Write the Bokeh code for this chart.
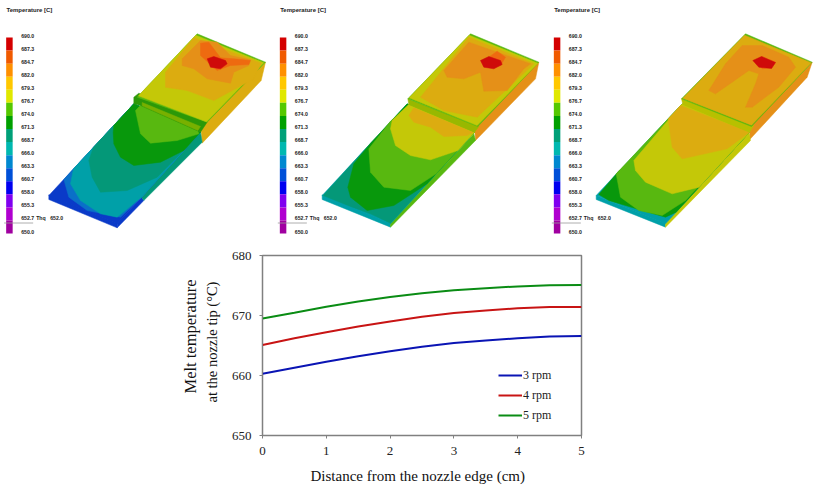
from bokeh.plotting import figure
from bokeh.layouts import column
from bokeh.models import Range1d, Legend, LegendItem, FixedTicker, Title
from bokeh.core.properties import value
from bokeh.embed import file_html
from bokeh.resources import INLINE

# ---- line chart data ----
distance = [0, 0.5, 1, 1.5, 2, 2.5, 3, 3.5, 4, 4.5, 5]
rpm3 = [660.3, 661.3, 662.3, 663.2, 664.05, 664.8, 665.4, 665.85, 666.2, 666.5, 666.6]
rpm4 = [665.1, 666.2, 667.2, 668.15, 669.0, 669.8, 670.4, 670.85, 671.2, 671.4, 671.4]
rpm5 = [669.5, 670.45, 671.45, 672.35, 673.1, 673.7, 674.2, 674.55, 674.85, 675.05, 675.1]
x_ticks = [0, 1, 2, 3, 4, 5]
y_ticks = [650, 660, 670, 680]

# ---- colour scale of the three temperature maps ----
scale_labels = ["690.0", "687.3", "684.7", "682.0", "679.3", "676.7", "674.0", "671.3",
                "668.7", "666.0", "663.3", "660.7", "658.0", "655.3", "652.7", "650.0"]
scale_colors = ["#d40000", "#f05a00", "#ff9000", "#ffc800", "#e0e800", "#55c800", "#00a000",
                "#00a078", "#00b8b0", "#0088d0", "#0050d8", "#0000f0", "#8000f0", "#b000d0", "#a000a0"]

RED, ORD, ORG, GLD, YEL, LGR, GRN, TGR, TEA, BLU, DBL = (
    "#cf0a0a", "#ee6a10", "#e59018", "#dcac10", "#c4c808", "#58b810",
    "#08980c", "#049878", "#00a0a8", "#0a70c8", "#0a3ac8")

# Temperature-band outlines (one list per map, painted back to front)
map1 = [
 (GLD, [(795,185),(782,240),(605,428),(600,372)]),
 (DBL, [(145,583),(350,668),(350,682),(145,597)]),
 (DBL, [(350,682),(350,668),(423,590),(430,600)]),
 (TGR, [(423,590),(600,395),(605,425),(430,600)]),
 (DBL, [(145,585),(400,310),(600,395),(350,670)]),
 (BLU, [(190,537),(219,505),(400,310),(600,395),(423,590),(360,650),(260,630),(205,590)]),
 (TEA, [(219,505),(400,310),(600,395),(423,590),(350,650),(300,640),(240,600),(210,550)]),
 (TGR, [(279,440),(400,310),(600,395),(554,445),(470,530),(380,570),(300,575),(275,530),(265,480)]),
 (GRN, [(340,375),(400,310),(600,395),(550,450),(480,485),(400,495),(360,470),(340,430),(338,395)]),
 (LGR, [(405,330),(425,310),(590,385),(595,400),(530,420),(450,428),(420,400)]),
 ("#2c9808", [(400,290),(415,278),(620,365),(600,395),(420,315),(400,310)]),
 ("#78b000", [(425,306),(600,378),(592,390),(425,316)]),
 (LGR, [(590,100),(795,185),(620,365),(410,290)]),
 (YEL, [(586,104),(790,187),(618,364),(414,286)]),
 (GLD, [(495,215),(580,112),(782,188),(760,235),(640,300),(560,270),(495,260)]),
 (ORG, [(545,175),(600,120),(650,125),(690,165),(750,178),(745,195),(700,215),(690,248),(620,235),(580,205),(545,195)]),
 (ORD, [(600,128),(625,125),(660,172),(700,175),(750,180),(745,192),(690,195),(650,210),(600,165)]),
 (RED, [(620,175),(640,168),(675,180),(680,190),(660,205),(630,200)]),
]
map2 = [
 (ORG, [(805,185),(795,235),(615,420),(612,378)]),
 (TEA, [(155,583),(360,668),(360,680),(155,597)]),
 (LGR, [(360,680),(360,668),(610,400),(615,420)]),
 (TEA, [(155,585),(410,310),(612,395),(360,670)]),
 (TGR, [(158,585),(303,425),(612,395),(360,668),(300,640),(240,618)]),
 (GRN, [(303,425),(410,310),(612,395),(470,550),(370,615),(290,630),(240,590),(232,560),(250,490)]),
 (LGR, [(295,445),(360,362),(415,312),(612,395),(497,520),(420,570),(340,560),(300,515)]),
 (YEL, [(360,385),(365,360),(415,312),(612,395),(562,450),(480,478),(420,465),(375,435)]),
 (GLD, [(415,345),(430,322),(608,395),(590,405),(520,408),(480,380),(430,365)]),
 ("#98b800", [(412,295),(415,312),(612,395),(625,378)]),
 (LGR, [(600,100),(805,185),(622,378),(412,295)]),
 (YEL, [(596,104),(802,188),(620,375),(416,292)]),
 (GLD, [(450,290),(595,110),(790,190),(620,350),(520,330)]),
 (ORG, [(520,210),(595,125),(780,190),(760,205),(710,270),(640,272),(630,215),(580,235),(530,230)]),
 (ORD, [(655,170),(680,152),(705,170),(690,195),(665,200)]),
 (RED, [(630,180),(655,168),(690,180),(695,192),(670,205),(640,200)]),
]
map3 = [
 (ORG, [(800,185),(785,230),(610,420),(615,375)]),
 (TEA, [(152,585),(360,668),(360,680),(152,597)]),
 (YEL, [(360,680),(360,668),(610,395),(615,420)]),
 (TEA, [(152,585),(410,310),(612,395),(360,670)]),
 (GRN, [(160,582),(221,510),(612,395),(392,635),(360,650),(290,630),(190,600)]),
 (LGR, [(212,520),(410,310),(612,395),(420,600),(350,645),(280,630),(225,590)]),
 (YEL, [(265,480),(410,310),(612,395),(461,560),(380,580),(300,545),(270,510)]),
 (GLD, [(368,355),(405,315),(612,395),(545,445),(410,475),(380,440)]),
 ("#b8c000", [(408,295),(412,312),(612,395),(625,375)]),
 (LGR, [(600,100),(800,185),(618,378),(408,295)]),
 (GLD, [(597,104),(797,187),(618,374),(412,293)]),
 (ORG, [(490,270),(540,190),(590,135),(650,135),(730,170),(750,200),(700,260),(620,320),(600,320),(630,250),(640,220),(610,210),(560,245),(510,280)]),
 (ORD, [(630,180),(650,168),(690,185),(680,200),(650,205)]),
 (RED, [(622,180),(648,168),(690,186),(678,204),(640,200)]),
]
panels = [(0, map1, 17, "652.0"), (270, map2, 28, "652.0"), (545, map3, 25, "652.0")]

SANS = value("Liberation Sans")
SERIF = "Liberation Serif"

top = figure(width=820, height=240, x_range=Range1d(0, 820), y_range=Range1d(240, 0),
             toolbar_location=None, output_backend="svg", min_border=0)
top.axis.visible = False
top.grid.visible = False
top.outline_line_color = None

for ox, polys, bar_x, thq in panels:
    for color, pts in polys:
        top.patch([ox + a / 3 for a, _ in pts], [b / 3 for _, b in pts],
                  fill_color=color, line_color=color, line_width=0.5)
    left = ox + bar_x / 3
    seg = 13.07
    y0 = 37.0
    n = len(scale_colors)
    top.quad(left=[left] * n, right=[left + 6.5] * n,
             top=[y0 + i * seg for i in range(n)],
             bottom=[y0 + (i + 1) * seg for i in range(n)],
             fill_color=scale_colors, line_color=None)
    top.text([left + 15] * len(scale_labels),
             [y0 - 2 + i * seg for i in range(len(scale_labels))],
             text=scale_labels, text_font=SANS, text_font_style="bold",
             text_font_size="5.2px", text_baseline="middle", text_color="#222222")
    top.text([left + 0.3], [9.5], text=["Temperature  [C]"], text_font=SANS,
             text_font_style="bold", text_font_size="6px",
             text_baseline="middle", text_color="#222222")
    top.text([left + 30], [217.5], text=["Thq"], text_font=SANS, text_font_style="bold",
             text_font_size="5.2px", text_baseline="middle", text_color="#222222")
    top.text([left + 44], [217.5], text=[thq], text_font=SANS, text_font_style="bold",
             text_font_size="5.2px", text_baseline="middle", text_color="#222222")
    top.line([left - 2, left + 27], [222.5, 222.5], line_color="#999999", line_width=0.8)

p = figure(width=820, height=251, x_range=Range1d(0, 5), y_range=Range1d(650, 680),
           toolbar_location=None, output_backend="svg",
           min_border_left=262, min_border_right=239, min_border_top=15, min_border_bottom=56)
p.grid.visible = False
p.outline_line_color = "#808080"
p.outline_line_width = 1.5

r3 = p.line(distance, rpm3, line_color="#0a14b4", line_width=2)
r4 = p.line(distance, rpm4, line_color="#c81414", line_width=2)
r5 = p.line(distance, rpm5, line_color="#0a8c14", line_width=2)

for ax, ticks in ((p.xaxis[0], x_ticks), (p.yaxis[0], y_ticks)):
    ax.ticker = FixedTicker(ticks=ticks)
    ax.axis_line_color = "#808080"
    ax.major_tick_line_color = "#808080"
    ax.minor_tick_line_color = None
    ax.major_tick_in = 0
    ax.major_tick_out = 3
    ax.major_label_text_font = SERIF
    ax.major_label_text_font_size = "13px"
    ax.major_label_text_color = "#222222"
p.xaxis[0].major_label_standoff = 8
p.yaxis[0].major_label_standoff = 8

title_style = dict(text_font=SERIF, text_font_style="normal", text_color="#111111", align="left")
p.add_layout(Title(text="Distance from the nozzle edge (cm)", text_font_size="15px", offset=48,
                   standoff=16, **title_style), "below")
p.add_layout(Title(text="at the nozzle tip (°C)", text_font_size="14.5px", offset=33,
                   standoff=17, **title_style), "left")
p.add_layout(Title(text="Melt temperature", text_font_size="16.5px", offset=42,
                   standoff=-12, text_line_height=0.7, **title_style), "left")

legend = Legend(items=[LegendItem(label="3 rpm", renderers=[r3]),
                       LegendItem(label="4 rpm", renderers=[r4]),
                       LegendItem(label="5 rpm", renderers=[r5])],
                location=(236, 10), orientation="vertical", border_line_color=None,
                background_fill_alpha=0, padding=0, margin=0, spacing=0,
                glyph_width=24, glyph_height=20, label_height=20, label_standoff=1,
                label_text_font=SERIF, label_text_font_size="12px", label_text_color="#222222")
p.add_layout(legend)

page = column(top, column(p), spacing=0)
open("out.html", "w").write(file_html(page, INLINE))
